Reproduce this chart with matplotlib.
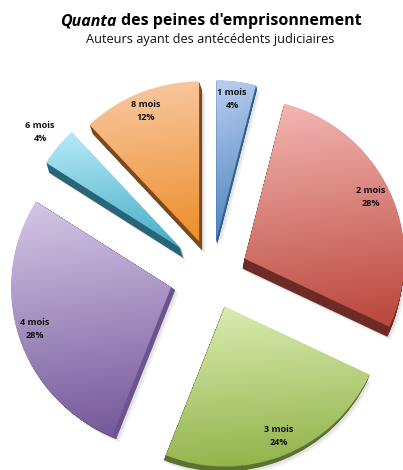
import matplotlib
matplotlib.use("Agg")
import matplotlib.pyplot as plt
import numpy as np
from matplotlib.colors import LinearSegmentedColormap
from matplotlib.patches import PathPatch
from matplotlib.path import Path

W, H = 403, 470

categories = ["1 mois", "2 mois", "3 mois", "4 mois", "6 mois", "8 mois"]
values = [4, 28, 24, 28, 4, 12]

TOP = ["#b4cbee", "#f2b3af", "#d8eaad", "#d0c3e3", "#b2e8f7", "#f8c8a0"]
BOTTOM = ["#4a82bd", "#bc4a40", "#93b34b", "#775a9c", "#4aaec9", "#ee9030"]
SIDE = ["#2f5f90", "#6e2a25", "#5c7230", "#6d5290", "#2a6478", "#7a4a1c"]
# pie() takes explode in data units, here pixels
explode = [34, 36, 35, 43, 40, 35]
depth = [(1, 4), (-2, 10), (-2, 5), (4, 3), (3, 10), (3, 9)]
label_xy = [(232, 99), (371, 197), (279, 436), (35, 329), (40, 132), (146, 111)]


def shifted(patch, dx, dy):
    path = patch.get_path()
    return Path(path.vertices + np.array([dx, dy]), path.codes)


def draw_slice(ax, wedge, top, bottom, side, off):
    dx, dy = off[0], -off[1]
    # soft grey shadow first, then the dark side, then the shaded top
    for grow, alpha in ((3.5, 0.07), (2, 0.10)):
        ax.add_patch(PathPatch(shifted(wedge, dx + grow, dy - grow), fc="#555555", ec="none", alpha=alpha, zorder=1))
    for t in np.linspace(0.1, 1, 12):
        ax.add_patch(PathPatch(shifted(wedge, dx * t, dy * t), fc=side, ec="none", zorder=2))

    box = wedge.get_path().get_extents()
    yy, xx = np.mgrid[0:1:120j, 0:1:120j]
    shade = np.clip(yy + 0.10 * (xx - 0.5), 0, 1)
    cmap = LinearSegmentedColormap.from_list("slice", [top, bottom])
    im = ax.imshow(shade, cmap=cmap, vmin=0, vmax=1, aspect="auto", origin="upper", zorder=3,
                   extent=(box.x0, box.x1, box.y0, box.y1), interpolation="bilinear")
    im.set_clip_path(PathPatch(wedge.get_path(), transform=ax.transData))


def main():
    plt.rcParams["font.family"] = ["Open Sans", "DejaVu Sans"]
    fig = plt.figure(figsize=(W / 100, H / 100), dpi=100, facecolor="white")
    ax = fig.add_axes([0, 0, 1, 1])

    wedges, _ = ax.pie(values, explode=explode, radius=160, center=(212, H - 274),
                       startangle=90, counterclock=False)
    for wedge, top, bottom, side, off in zip(wedges, TOP, BOTTOM, SIDE, depth):
        wedge.set_visible(False)
        draw_slice(ax, wedge, top, bottom, side, off)

    ax.set_xlim(0, W)
    ax.set_ylim(0, H)
    ax.set_aspect("auto")
    ax.axis("off")

    for name, val, (x, y) in zip(categories, values, label_xy):
        ax.text(x, H - y, f"{name}\n{val}%", ha="center", va="center", fontsize=6.6,
                fontweight="bold", color="#111111", linespacing=1.45, zorder=5)

    ax.text(117, H - 21, "Quanta", ha="right", va="center", fontsize=11.5, fontweight="bold", fontstyle="italic")
    ax.text(121, H - 21, "des peines d'emprisonnement", ha="left", va="center", fontsize=11.5, fontweight="bold")
    ax.text(210, H - 40, "Auteurs ayant des antécédents judiciaires", ha="center", va="center",
            fontsize=9.2, color="#111111")

    fig.savefig("out.png", dpi=100)
    plt.close(fig)


if __name__ == "__main__":
    main()
